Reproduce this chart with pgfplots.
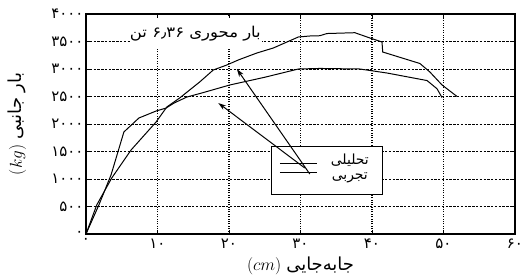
\documentclass[border=0pt]{standalone}
\usepackage{fontspec}
\usepackage{pgfplots}
\pgfplotsset{compat=1.18}
\usetikzlibrary{arrows.meta}
\TeXXeTstate=1
\newfontfamily\arabicfont[Script=Arabic]{DejaVu Sans}
\begin{document}
\begin{tikzpicture}
\path[use as bounding box] (-86bp,-44bp) rectangle (434bp,234bp);
\begin{axis}[at={(0,0)}, anchor=south west,
  width=429bp, height=220bp, scale only axis,
  xmin=0, xmax=60, ymin=0, ymax=4000,
  xtick={0,10,20,30,40,50,60},
  xticklabels={۰,۱۰,۲۰,۳۰,۴۰,۵۰,۶۰},
  ytick={0,500,1000,1500,2000,2500,3000,3500,4000},
  yticklabels={۰,۵۰۰,۱۰۰۰,۱۵۰۰,۲۰۰۰,۲۵۰۰,۳۰۰۰,۳۵۰۰,۴۰۰۰},
  tick label style={font=\arabicfont\fontsize{15}{16}\selectfont},
  yticklabel style={xshift=1bp},
  xticklabel style={yshift=-1bp},
  grid=major,
  major x grid style={line width=1.2pt, dash pattern=on 1pt off 1.4pt, black},
  major y grid style={line width=0.7pt, dash pattern=on 2.4pt off 1.4pt, black},
  axis line style={line width=1.3pt},
  tick style={line width=0.9pt, black},
  major tick length=4bp,
  xlabel={$(cm)$\ {\arabicfont\fontsize{18}{20}\selectfont\beginR جابه‌جایی\endR}},
  ylabel={$(kg)$\ {\arabicfont\fontsize{18}{20}\selectfont\beginR بار جانبی\endR}},
  xlabel style={at={(axis description cs:0.5,-0.145)}, anchor=center, font=\fontsize{17}{19}\selectfont},
  ylabel style={at={(axis description cs:-0.16,0.5)}, anchor=center, font=\fontsize{17}{19}\selectfont},
]
\addplot[black, line width=1pt] coordinates {
(0,0) (1.8,527) (3.5,1073) (5.3,1855) (7.4,2109) (9.8,2236) (11.2,2290)
(12.3,2380) (14.1,2490) (16.2,2564) (20.1,2709) (25,2850) (29.7,3000)
(32.7,3010) (38.3,3000) (42.1,2927) (47.7,2790) (49.1,2640) (49.8,2480)
};
\addplot[black, line width=1pt] coordinates {
(0,0) (1.5,527) (3.6,1018) (6.3,1527) (9.8,2036) (11.3,2309) (13.1,2473)
(15.9,2764) (17.8,2982) (19.7,3073) (21.3,3164) (23.9,3291) (26.2,3382)
(29.7,3582) (31.3,3600) (32.7,3605) (33.7,3645) (37.6,3660) (39.7,3564)
(41.4,3491) (41.5,3309) (46.7,3100) (48.1,2945) (49.8,2709) (51.9,2500)
};
\fill[white] (axis cs:6.2,3380) rectangle (axis cs:24.6,3920);
\node[font=\arabicfont\fontsize{15}{17}\selectfont, anchor=center] at (axis cs:15.3,3650)
  {\scalebox{1.1}[1]{\beginR بار محوری ۶٫۳۶ تن\endR}};
\draw[line width=1pt, fill=white] (axis cs:26.0,1600) rectangle (axis cs:41.4,727);
\draw[line width=1pt] (axis cs:27.1,1273) -- (axis cs:32.3,1273);
\draw[line width=1pt] (axis cs:27.1,1127) -- (axis cs:32.3,1127);
\node[font=\arabicfont\fontsize{14}{16}\selectfont, inner sep=1pt] at (axis cs:36.9,1350) {\beginR تحلیلی\endR};
\node[font=\arabicfont\fontsize{14}{16}\selectfont, inner sep=1pt] at (axis cs:36.9,1030) {\beginR تجربی\endR};
\draw[line width=1pt, -{Stealth[length=8bp,width=5bp]}] (axis cs:31.3,1091) -- (axis cs:21.1,3000);
\draw[line width=1pt, -{Stealth[length=8bp,width=5bp]}] (axis cs:30.6,1200) -- (axis cs:18.5,2382);
\end{axis}
\end{tikzpicture}
\end{document}
